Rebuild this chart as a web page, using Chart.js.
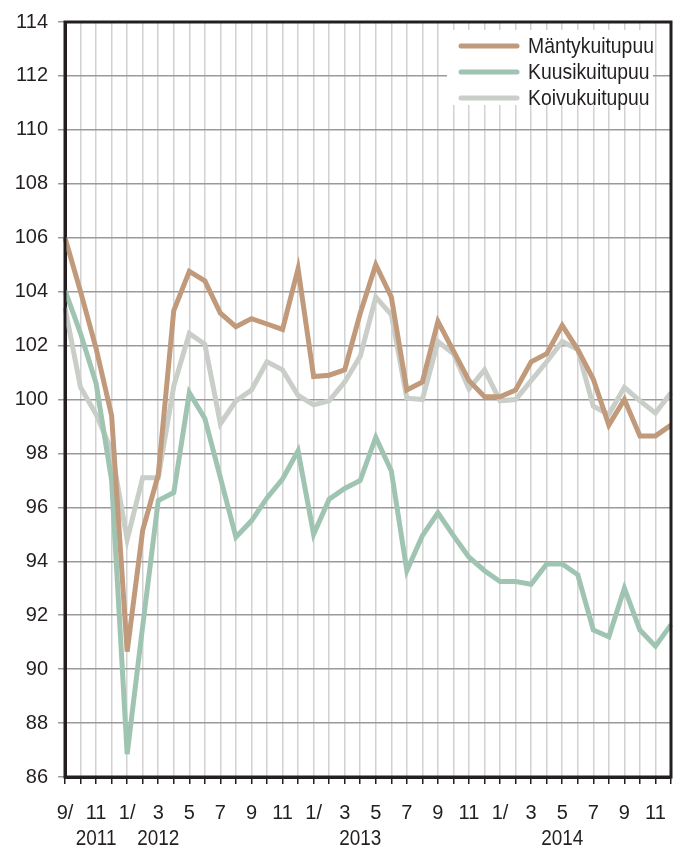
<!DOCTYPE html>
<html>
<head>
<meta charset="utf-8">
<script src="https://cdn.jsdelivr.net/npm/chart.js@4"></script>
<style>
  body { margin: 0; background: #fff; }
  #wrap { width: 680px; height: 849px; position: relative; }
</style>
</head>
<body>
<div id="wrap"><canvas id="chart"></canvas></div>
<script>
// months 9/2011 .. 12/2014, only every second one gets a label
const monthLabels = ['9/', '', '11', '', '1/', '', '3', '', '5', '', '7', '', '9', '', '11', '',
  '1/', '', '3', '', '5', '', '7', '', '9', '', '11', '',
  '1/', '', '3', '', '5', '', '7', '', '9', '', '11', ''];
const yearLabels = ['2011', '2012', '2013', '2014'];
const yearAt = [2, 6, 19, 32];

const manty = [106.0, 104.0, 101.9, 99.4, 90.65, 95.15, 97.2, 103.3, 104.75, 104.4,
  103.2, 102.7, 103.0, 102.8, 102.6, 104.85, 100.85, 100.9, 101.1, 103.2,
  105.0, 103.8, 100.35, 100.65, 102.9, 101.8, 100.7, 100.1, 100.1, 100.35,
  101.4, 101.7, 102.75, 101.85, 100.75, 99.05, 100.0, 98.65, 98.65, 99.05];
const kuusi = [104.05, 102.45, 100.6, 97.0, 86.85, 91.6, 96.25, 96.55, 100.25, 99.3,
  97.1, 94.9, 95.5, 96.35, 97.05, 98.1, 95.0, 96.3, 96.7, 97.0,
  98.6, 97.35, 93.65, 94.95, 95.8, 94.95, 94.15, 93.65, 93.25, 93.25,
  93.15, 93.9, 93.9, 93.5, 91.45, 91.2, 93.0, 91.45, 90.85, 91.65];
const koivu = [103.4, 100.45, 99.45, 98.1, 94.8, 97.1, 97.1, 100.5, 102.45, 102.05,
  99.1, 99.95, 100.35, 101.4, 101.1, 100.15, 99.8, 99.95, 100.65, 101.6,
  103.8, 103.15, 100.05, 100.0, 102.15, 101.7, 100.4, 101.1, 99.95, 100.0,
  100.7, 101.4, 102.15, 101.85, 99.75, 99.45, 100.45, 99.95, 99.5, 100.25];

const FONT = '"Liberation Sans", Arial, sans-serif';
const TEXT = '#231f20';

const series = [
  { label: 'Mäntykuitupuu', data: manty, color: '#c09a7b' },
  { label: 'Kuusikuitupuu', data: kuusi, color: '#a0c4b2' },
  { label: 'Koivukuitupuu', data: koivu, color: '#c9cec9' },
];

// squeezed text, the original uses a narrow face
function narrowText(ctx, str, x, y, sx) {
  ctx.save();
  ctx.translate(x, y);
  ctx.scale(sx, 1);
  ctx.fillText(str, 0, 0);
  ctx.restore();
}

// frame, year row and the boxed legend
const extras = {
  id: 'extras',
  afterDraw(chart) {
    const { ctx, chartArea: a, scales } = chart;
    ctx.save();
    ctx.strokeStyle = '#231f20';
    ctx.lineWidth = 3;
    ctx.strokeRect(a.left, a.top, a.right - a.left, a.bottom - a.top);

    ctx.font = '22px ' + FONT;
    ctx.fillStyle = TEXT;
    ctx.textAlign = 'center';
    ctx.textBaseline = 'middle';
    yearLabels.forEach((y, i) => {
      narrowText(ctx, y, scales.x.getPixelForValue(yearAt[i]), a.bottom + 62, 0.86);
    });

    const bx = a.right - 224, by = a.top + 8;
    ctx.fillStyle = '#fff';
    ctx.fillRect(bx, by, 206, 75);
    ctx.textAlign = 'left';
    ctx.lineCap = 'round';
    ctx.lineWidth = 5;
    chart.data.datasets.forEach((ds, i) => {
      const y = by + 16 + i * 26;
      ctx.strokeStyle = ds.borderColor;
      ctx.beginPath();
      ctx.moveTo(bx + 14, y);
      ctx.lineTo(bx + 70, y);
      ctx.stroke();
      ctx.fillStyle = TEXT;
      narrowText(ctx, ds.label, bx + 81, y + 1, 0.88);
    });
    ctx.restore();
  }
};

new Chart(document.getElementById('chart'), {
  type: 'line',
  data: {
    labels: monthLabels,
    datasets: series.map(s => ({
      label: s.label,
      data: s.data,
      borderColor: s.color,
      backgroundColor: s.color,
      borderWidth: 5,
      pointRadius: 0,
      tension: 0,
    })),
  },
  options: {
    responsive: true,
    maintainAspectRatio: false,
    animation: false,
    layout: { padding: { top: 21, right: 9, left: 0, bottom: 0 } },
    plugins: { legend: { display: false }, tooltip: { enabled: false } },
    scales: {
      x: {
        afterFit: s => { s.height = 72; s.paddingLeft = 0; s.paddingRight = 0; },
        grid: { color: '#d2d2d2', lineWidth: 1.5, tickColor: '#231f20', tickLength: 7, tickWidth: 1.5 },
        border: { color: '#231f20', width: 3 },
        ticks: {
          autoSkip: false, maxRotation: 0, padding: 17,
          color: TEXT, font: { family: FONT, size: 20 },
        },
      },
      y: {
        min: 86, max: 114,
        afterFit: s => { s.width = 65; },
        grid: { color: '#9a9a9a', lineWidth: 1.5, tickColor: '#9a9a9a', tickLength: 7 },
        border: { color: '#231f20', width: 3 },
        ticks: {
          stepSize: 2, padding: 10,
          color: TEXT, font: { family: FONT, size: 20 },
        },
      },
    },
  },
  plugins: [extras],
});
</script>
</body>
</html>
